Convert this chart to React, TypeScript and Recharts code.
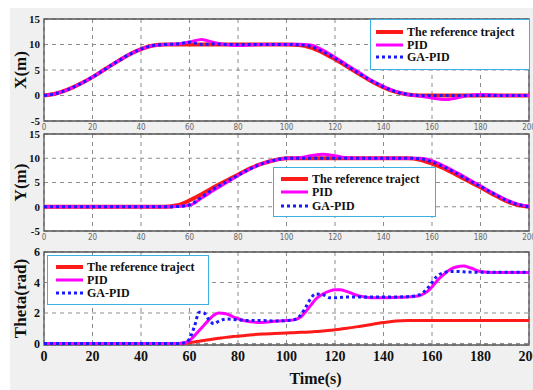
import {
  LineChart,
  Line,
  XAxis,
  YAxis,
  CartesianGrid,
  ReferenceArea,
  Legend,
  Label
} from "recharts";

// time base for the X / Y position panels (s)
const posT = [
  0, 5, 10, 15, 20, 25, 30, 35, 40, 45, 50, 55, 60, 65, 70, 75, 80, 85, 90, 95,
  100, 105, 110, 115, 120, 125, 130, 135, 140, 145, 150, 155, 160, 165, 170,
  175, 180, 185, 190, 195, 200
];

const xRef = [
  0, 0.4, 1.2, 2.3, 3.6, 5.1, 6.6, 8.0, 9.1, 9.8, 10, 10, 10, 10, 10, 10, 10,
  10, 10, 10, 10, 9.9, 9.4, 8.4, 7.1, 5.7, 4.2, 2.8, 1.6, 0.7, 0.2, 0, 0, 0, 0,
  0, 0, 0, 0, 0, 0
];
const xPid = [
  0, 0.4, 1.2, 2.3, 3.6, 5.1, 6.6, 8.0, 9.1, 9.8, 10, 10.1, 10.5, 11.0, 10.4,
  10.0, 9.8, 9.9, 10, 10, 10, 10.05, 9.9, 8.9, 7.5, 6.0, 4.5, 3.0, 1.8, 0.8, 0.2,
  -0.1, -0.5, -0.8, -0.5, 0, 0.2, 0.1, 0, 0, 0
];
const xGa = [
  0, 0.4, 1.2, 2.3, 3.6, 5.1, 6.6, 8.0, 9.1, 9.8, 10, 10.1, 10.45, 10.0, 10.1,
  10, 10, 10, 10, 10, 10, 9.95, 9.6, 8.6, 7.3, 5.8, 4.3, 2.9, 1.7, 0.75, 0.2, 0,
  0, 0, 0, 0, 0, 0, 0, 0, 0
];

const yRef = [
  0, 0, 0, 0, 0, 0, 0, 0, 0, 0, 0, 0.3, 1.3, 2.6, 4.0, 5.3, 6.6, 7.9, 8.9, 9.6,
  10, 10, 10, 10, 10, 10, 10, 10, 10, 10, 10, 9.7, 8.9, 7.9, 6.6, 5.3, 4.0, 2.6,
  1.3, 0.4, 0
];
const yPid = [
  0, 0, 0, 0, 0, 0, 0, 0, 0, 0, 0, 0.05, 0.3, 1.8, 3.4, 4.9, 6.4, 7.8, 8.9, 9.6,
  10.0, 10.1, 10.5, 10.8, 10.5, 10.1, 10.0, 10, 10, 10, 10, 10.0, 9.5, 8.4, 7.1,
  5.7, 4.3, 2.9, 1.6, 0.6, 0.1
];
const yGa = [
  0, 0, 0, 0, 0, 0, 0, 0, 0, 0, 0, 0.05, 0.4, 2.0, 3.7, 5.1, 6.5, 7.8, 8.9, 9.6,
  10, 10, 10, 10, 10, 10, 10, 10, 10, 10, 10, 9.9, 9.2, 8.2, 6.9, 5.5, 4.2, 2.8,
  1.5, 0.5, 0
];

// time base for the heading panel (s)
const thT = [
  0, 10, 20, 30, 40, 50, 55, 58, 60, 62, 64, 66, 68, 70, 72, 75, 78, 80, 85, 90,
  95, 100, 103, 106, 108, 110, 112, 115, 118, 120, 122, 125, 130, 135, 140, 145,
  150, 155, 158, 160, 162, 165, 168, 170, 173, 176, 180, 185, 190, 195, 200
];
const thRef = [
  0, 0, 0, 0, 0, 0, 0, 0, 0.05, 0.1, 0.15, 0.2, 0.25, 0.3, 0.34, 0.4, 0.45,
  0.48, 0.56, 0.62, 0.66, 0.69, 0.71, 0.73, 0.74, 0.76, 0.78, 0.82, 0.86, 0.9,
  0.94, 1.0, 1.12, 1.25, 1.37, 1.47, 1.5, 1.5, 1.5, 1.5, 1.5, 1.5, 1.5, 1.5, 1.5,
  1.5, 1.5, 1.5, 1.5, 1.5, 1.5
];
const thPid = [
  0, 0, 0, 0, 0, 0, 0, 0.05, 0.2, 0.5, 0.85, 1.2, 1.55, 1.85, 2.0, 1.95, 1.75,
  1.62, 1.42, 1.38, 1.45, 1.5, 1.55, 1.75, 2.1, 2.5, 2.9, 3.25, 3.45, 3.52, 3.53,
  3.4, 3.12, 3.0, 3.0, 3.02, 3.05, 3.15, 3.4, 3.7, 4.1, 4.55, 4.9, 5.02, 5.08,
  4.95, 4.72, 4.65, 4.65, 4.65, 4.65
];
const thGa = [
  0, 0, 0, 0, 0, 0, 0, 0.05, 0.3, 1.1, 2.05, 2.0, 1.55, 1.3, 1.45, 1.6, 1.58,
  1.55, 1.5, 1.5, 1.48, 1.5, 1.55, 1.9, 2.4, 2.95, 3.25, 3.2, 3.0, 3.0, 3.02,
  3.05, 3.05, 3.05, 3.05, 3.05, 3.07, 3.2, 3.6, 4.0, 4.4, 4.65, 4.72, 4.72, 4.7,
  4.68, 4.67, 4.67, 4.67, 4.67, 4.67
];

const timeTicks = [0, 20, 40, 60, 80, 100, 120, 140, 160, 180, 200];
const posTicks = [-5, 0, 5, 10, 15];
const thetaTicks = [0, 2, 4, 6];

const seriesKeys = ["ref", "pid", "ga"];
const seriesNames = ["The reference traject", "PID", "GA-PID"];

const SERIF = '"Liberation Serif", "Times New Roman", serif';
const NARROW = '"Liberation Sans Narrow", "DejaVu Sans Condensed", sans-serif';

const xData = posT.map((t, i) => ({ t, ref: xRef[i], pid: xPid[i], ga: xGa[i] }));
const yData = posT.map((t, i) => ({ t, ref: yRef[i], pid: yPid[i], ga: yGa[i] }));
const thData = thT.map((t, i) => ({ t, ref: thRef[i], pid: thPid[i], ga: thGa[i] }));

const LINE_STYLE: Record<string, { color: string; dash?: string; w: number }> = {
  ref: { color: "#ff1a1a", w: 4 },
  pid: { color: "#ff00ff", w: 3 },
  ga: { color: "#1a1aff", dash: "3 3", w: 3 }
};

function LegendBox({ payload, box }: any) {
  // legend keeps the plotting order: reference, PID, GA-PID
  const items = [...(payload || [])].sort(
    (a: any, b: any) => seriesKeys.indexOf(a.dataKey) - seriesKeys.indexOf(b.dataKey)
  );
  return (
    <div
      style={{
        width: box.width,
        height: box.height,
        boxSizing: "border-box",
        border: "1px solid #3cb0e0",
        background: "#fff",
        paddingTop: box.padTop,
        paddingLeft: box.padLeft
      }}
    >
      {items.map((p: any) => {
        const s = LINE_STYLE[p.dataKey];
        return (
          <div
            key={p.dataKey}
            style={{ display: "flex", alignItems: "center", height: box.row }}
          >
            <svg width={27} height={8} style={{ marginRight: 4 }}>
              <line
                x1={0}
                x2={27}
                y1={4}
                y2={4}
                stroke={s.color}
                strokeWidth={s.w}
                strokeDasharray={s.dash}
              />
            </svg>
            <span
              style={{
                fontFamily: SERIF,
                fontWeight: "bold",
                fontSize: 12,
                color: "#111",
                lineHeight: 1
              }}
            >
              {p.value}
            </span>
          </div>
        );
      })}
    </div>
  );
}

function Panel({
  data,
  top,
  height,
  marginTop,
  xHeight,
  yDomain,
  yTicks,
  yLabel,
  box,
  big,
  refWidth
}: any) {
  return (
    <div style={{ position: "absolute", left: 0, top }}>
      <LineChart
        width={533}
        height={height}
        data={data}
        margin={{ top: marginTop, right: 4, left: 0, bottom: 0 }}
      >
        <CartesianGrid
          fill="#fff"
          stroke="#8c8c8c"
          strokeDasharray="4 4"
        />
        <XAxis
          dataKey="t"
          type="number"
          domain={[0, 200]}
          ticks={timeTicks}
          interval={0}
          height={xHeight}
          tickLine={false}
          axisLine={false}
          tickSize={0}
          tickMargin={big ? 6 : 3}
          tick={
            big
              ? { fontSize: 14, fontWeight: "bold", fontFamily: SERIF, fill: "#111" }
              : { fontSize: 8, fontFamily: NARROW, fill: "#666" }
          }
        >
          {big && (
            <Label
              value="Time(s)"
              position="insideBottom"
              offset={6}
              dx={29}
              style={{ fontSize: 16, fontWeight: "bold", fontFamily: SERIF, fill: "#111" }}
            />
          )}
        </XAxis>
        <YAxis
          type="number"
          domain={yDomain}
          ticks={yTicks}
          interval={0}
          width={44}
          tickLine={false}
          axisLine={false}
          tickSize={0}
          tickMargin={4}
          tick={{
            fontSize: big ? 12 : 11,
            fontWeight: "bold",
            fontFamily: SERIF,
            fill: "#111"
          }}
        >
          <Label
            value={yLabel}
            angle={-90}
            position="center"
            dx={-2}
            style={{ fontSize: 17, fontWeight: "bold", fontFamily: SERIF, fill: "#111" }}
          />
        </YAxis>
        <ReferenceArea
          x1={0}
          x2={200}
          y1={yDomain[0]}
          y2={yDomain[1]}
          fill="none"
          stroke="#555"
          strokeWidth={1.3}
          strokeOpacity={1}
        />
        <Legend
          layout="vertical"
          align="center"
          verticalAlign="middle"
          wrapperStyle={{ left: box.left, top: box.top, width: box.width, height: box.height }}
          content={(props: any) => <LegendBox payload={props.payload} box={box} />}
        />
        {seriesKeys.map((k, i) => (
          <Line
            key={k}
            dataKey={k}
            name={seriesNames[i]}
            type="monotone"
            stroke={LINE_STYLE[k].color}
            strokeWidth={k === "ref" ? refWidth : LINE_STYLE[k].w}
            strokeDasharray={LINE_STYLE[k].dash}
            dot={false}
            activeDot={false}
            isAnimationActive={false}
          />
        ))}
      </LineChart>
    </div>
  );
}

export default function App() {
  return (
    <div
      style={{
        position: "absolute",
        left: 0,
        top: 0,
        width: 533,
        height: 390,
        background: "#fff",
        overflow: "hidden"
      }}
    >
      <div
        style={{
          position: "absolute",
          left: 10,
          top: 8,
          width: 523,
          height: 382,
          background: "#f0f0f0"
        }}
      />
      <Panel
        data={xData}
        top={0}
        height={135}
        marginTop={19}
        xHeight={14}
        yDomain={[-5, 15]}
        yTicks={posTicks}
        yLabel="X(m)"
        refWidth={4}
        box={{ left: 370, top: 19, width: 160, height: 51, padTop: 6, padLeft: 5, row: 12.5 }}
      />
      <Panel
        data={yData}
        top={121}
        height={124}
        marginTop={13}
        xHeight={14}
        yDomain={[-5, 15]}
        yTicks={posTicks}
        yLabel="Y(m)"
        refWidth={4}
        box={{ left: 273, top: 46, width: 163, height: 50, padTop: 4, padLeft: 7, row: 13.5 }}
      />
      <Panel
        data={thData}
        top={245}
        height={145}
        marginTop={7}
        xHeight={45}
        yDomain={[-0.1, 6]}
        yTicks={thetaTicks}
        yLabel="Theta(rad)"
        refWidth={3}
        big
        box={{ left: 47, top: 10, width: 162, height: 50, padTop: 4.5, padLeft: 8, row: 13 }}
      />
    </div>
  );
}
